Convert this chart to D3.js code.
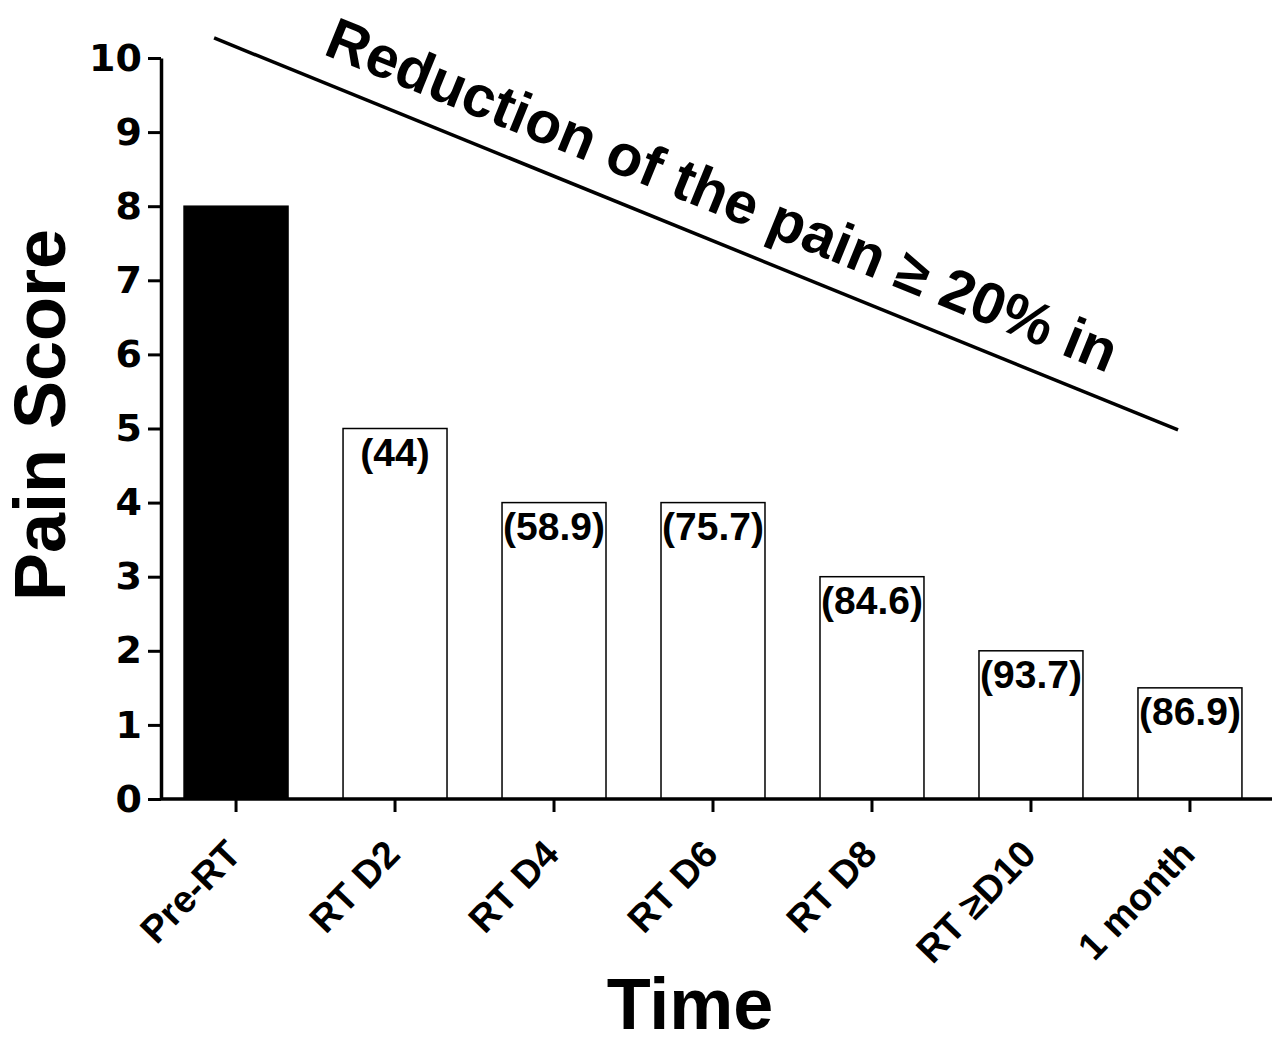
<!DOCTYPE html>
<html>
<head>
<meta charset="utf-8">
<script src="https://cdn.jsdelivr.net/npm/d3@7"></script>
<style>
  body { margin: 0; background: #fff; }
  svg { display: block; font-family: "Liberation Sans", Arial, sans-serif; font-weight: bold; }
</style>
</head>
<body>
<svg id="chart" width="1282" height="1044"></svg>
<script>
const categories = ['Pre-RT', 'RT D2', 'RT D4', 'RT D6', 'RT D8', 'RT \u2265D10', '1 month'];
const painScores = [8, 5, 4, 4, 3, 2, 1.5];
const reductionPct = [null, '44', '58.9', '75.7', '84.6', '93.7', '86.9'];
const yTickValues = [0, 1, 2, 3, 4, 5, 6, 7, 8, 9, 10];

// trend annotation, in data terms (category + fraction of a band step, pain score)
const trendStart = {category: 'Pre-RT', offset: -0.138, score: 10.27};
const trendEnd = {category: '1 month', offset: -0.075, score: 4.98};
const trendText = 'Reduction of the pain \u2265 20% in';

const plot = {left: 161, right: 1265, top: 58, bottom: 799, axisEnd: 1272};

const svg = d3.select('#chart');

const xScale = d3.scaleBand()
    .domain(categories)
    .range([plot.left, plot.right])
    .paddingInner(0.346)
    .paddingOuter(0.145);

const yScale = d3.scaleLinear()
    .domain([0, 10])
    .range([plot.bottom, plot.top]);

const data = categories.map((c, i) => ({category: c, score: painScores[i], pct: reductionPct[i]}));

// bars
svg.append('g')
    .selectAll('rect')
    .data(data)
    .join('rect')
        .attr('x', d => xScale(d.category))
        .attr('y', d => yScale(d.score))
        .attr('width', xScale.bandwidth())
        .attr('height', d => yScale(0) - yScale(d.score))
        .style('fill', (d, i) => i === 0 ? '#000' : '#fff')
        .style('stroke', '#000')
        .style('stroke-width', 1.5);

// percentage labels inside bars
svg.append('g')
    .selectAll('text')
    .data(data.filter(d => d.pct))
    .join('text')
        .attr('x', d => xScale(d.category) + xScale.bandwidth() / 2)
        .attr('y', d => yScale(d.score) + 37)
        .attr('text-anchor', 'middle')
        .style('font-size', '39px')
        .text(d => `(${d.pct})`);

// y axis
const yAxis = svg.append('g')
    .attr('transform', `translate(${plot.left}, 0)`)
    .call(d3.axisLeft(yScale).tickValues(yTickValues).tickSize(13).tickSizeOuter(0).tickPadding(6));

yAxis.attr('font-family', null).attr('font-size', null);
yAxis.select('.domain').style('stroke-width', 3.5);
yAxis.selectAll('.tick line').style('stroke-width', 3);
yAxis.selectAll('.tick text')
    .style('font-family', '"DejaVu Sans", sans-serif')
    .style('font-size', '38px')
    .style('font-weight', 'bold');

// x axis
const xAxis = svg.append('g')
    .attr('transform', `translate(0, ${plot.bottom})`)
    .call(d3.axisBottom(xScale).tickSize(13).tickSizeOuter(0));

xAxis.attr('font-family', null).attr('font-size', null);
xAxis.select('.domain')
    .attr('d', `M${plot.left},0H${plot.axisEnd}`)
    .style('stroke-width', 3.5);
xAxis.selectAll('.tick line').style('stroke-width', 3);
xAxis.selectAll('.tick text')
    .attr('y', 0)
    .attr('dy', null)
    .attr('transform', 'translate(7, 57) rotate(-46)')
    .attr('text-anchor', 'end')
    .style('font-size', '38px')
    .style('font-weight', 'bold');

// axis titles
svg.append('text')
    .attr('transform', 'translate(65, 415) rotate(-90)')
    .attr('text-anchor', 'middle')
    .style('font-size', '72px')
    .text('Pain Score');

svg.append('text')
    .attr('x', 690)
    .attr('y', 1029)
    .attr('text-anchor', 'middle')
    .style('font-size', '72px')
    .text('Time');

// trend line + text
const step = xScale.step();
const bandCenter = c => xScale(c) + xScale.bandwidth() / 2;
const x1 = bandCenter(trendStart.category) + trendStart.offset * step;
const y1 = yScale(trendStart.score);
const x2 = bandCenter(trendEnd.category) + trendEnd.offset * step;
const y2 = yScale(trendEnd.score);

svg.append('line')
    .attr('x1', x1)
    .attr('y1', y1)
    .attr('x2', x2)
    .attr('y2', y2)
    .style('stroke', '#000')
    .style('stroke-width', 3.5);

const angle = Math.atan2(y2 - y1, x2 - x1);
const ux = Math.cos(angle), uy = Math.sin(angle);
const along = 106, above = 26;
const tx = x1 + along * ux + above * uy;
const ty = y1 + along * uy - above * ux;

svg.append('text')
    .attr('transform', `translate(${tx}, ${ty}) rotate(${angle * 180 / Math.PI})`)
    .style('font-size', '58.5px')
    .text(trendText);
</script>
</body>
</html>
